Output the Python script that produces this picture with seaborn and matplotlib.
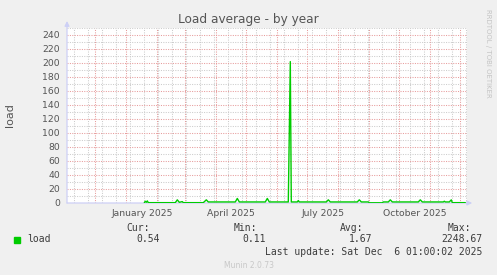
import matplotlib
matplotlib.use("Agg")
import matplotlib.pyplot as plt
import matplotlib.dates as mdates
from matplotlib.ticker import FixedLocator, MultipleLocator, NullFormatter
from matplotlib.patches import Rectangle
import matplotlib.transforms as mtransforms
import seaborn as sns
import pandas as pd

# ---------------- data ----------------
dates = [
    "2025-01-19", "2025-01-20", "2025-01-21", "2025-01-22", "2025-01-23",
    "2025-02-19", "2025-02-21", "2025-02-23", "2025-02-26", "2025-02-27",
    "2025-03-19", "2025-03-22", "2025-03-24",
    "2025-04-20", "2025-04-22", "2025-04-24",
    "2025-05-20", "2025-05-22", "2025-05-24",
    "2025-06-12", "2025-06-14", "2025-06-15",
    "2025-06-21", "2025-06-22", "2025-06-23",
    "2025-07-20", "2025-07-22", "2025-07-24",
    "2025-08-20", "2025-08-22", "2025-08-24",
    "2025-08-31", "2025-09-01", "2025-09-14", "2025-09-15",
    "2025-09-20", "2025-09-22", "2025-09-24",
    "2025-10-20", "2025-10-22", "2025-10-24",
    "2025-11-14", "2025-11-15", "2025-11-16",
    "2025-11-20", "2025-11-22", "2025-11-23", "2025-12-06",
]
load = [
    0.5, 2.5, 1.0, 3.0, 0.5,
    0.5, 4.5, 1.0, 2.0, 0.5,
    0.5, 4.5, 1.5,
    1.5, 6.5, 1.5,
    1.5, 6.5, 1.5,
    1.5, 202.0, 1.5,
    1.5, 3.5, 1.5,
    1.5, 4.5, 1.5,
    1.5, 4.5, 1.5,
    1.5, 0.3, 0.3, 1.5,
    1.5, 4.5, 1.5,
    1.5, 4.5, 1.5,
    1.5, 2.5, 1.5,
    1.5, 4.5, 0.5, 0.5,
]
y_ticks = [0, 20, 40, 60, 80, 100, 120, 140, 160, 180, 200, 220, 240]
x_labels = ["January 2025", "April 2025", "July 2025", "October 2025"]
x_label_dates = ["2025-01-16 12:00", "2025-04-16 00:00", "2025-07-16 12:00", "2025-10-16 12:00"]
legend_name = "load"
stat_headers = ["Cur:", "Min:", "Avg:", "Max:"]
stat_values = ["0.54", "0.11", "1.67", "2248.67"]
title = "Load average - by year"
last_update = "Last update: Sat Dec  6 01:00:02 2025"

# ---------------- figure ----------------
sns.set_theme(style="white")
plt.rcParams["font.family"] = ["DejaVu Sans"]

W, H = 497, 275
fig = plt.figure(figsize=(W / 100, H / 100), dpi=100, facecolor="#F0F0F0")
ax = fig.add_axes([67 / W, 72 / H, 400 / W, 175 / H])
ax.set_facecolor("white")
ax.set_axisbelow(True)

df = pd.DataFrame({"date": pd.to_datetime(dates), "load": load})
sns.lineplot(data=df, x="date", y="load", color="#00CC00", linewidth=1.0,
             ax=ax, zorder=3)

ax.set_xlim(pd.Timestamp("2024-11-02 16:48"), pd.Timestamp("2025-12-07 16:48"))
ax.set_ylim(0, 250)
ax.set_xlabel("")
ax.set_ylabel("")

ax.yaxis.set_major_locator(FixedLocator(y_ticks))
ax.yaxis.set_minor_locator(MultipleLocator(10))
ax.xaxis.set_major_locator(mdates.MonthLocator())
ax.xaxis.set_minor_locator(FixedLocator(
    mdates.date2num(pd.date_range("2024-11-10", "2025-12-07", freq="14D"))))
ax.xaxis.set_major_formatter(NullFormatter())
ax.tick_params(axis="x", which="both", length=0, labelbottom=False)
ax.tick_params(axis="y", which="both", length=0, labelsize=6.7,
               labelcolor="#555555", pad=5)

dots = (0, (1, 1.3))
ax.grid(which="minor", color="#CCCCCC", linestyle=dots, linewidth=0.75)
ax.grid(which="major", color="#E79C9C", linestyle=dots, linewidth=0.75)

for s in ax.spines.values():
    s.set_visible(False)

axis_col = "#CDD0F6"
ax.annotate("", xy=(0, 1.04), xytext=(0, 0), xycoords="axes fraction",
            arrowprops=dict(arrowstyle="-|>", color=axis_col, lw=0.9,
                            mutation_scale=7, shrinkA=0, shrinkB=0),
            annotation_clip=False, zorder=2)
ax.annotate("", xy=(1.013, 0), xytext=(0, 0), xycoords="axes fraction",
            arrowprops=dict(arrowstyle="-|>", color=axis_col, lw=0.9,
                            mutation_scale=7, shrinkA=0, shrinkB=0),
            annotation_clip=False, zorder=2)

trans = mtransforms.blended_transform_factory(ax.transData, ax.transAxes)
for lab, d in zip(x_labels, x_label_dates):
    ax.text(mdates.date2num(pd.Timestamp(d)), -10 / 175, lab, transform=trans,
            ha="center", va="center", fontsize=6.7, color="#555555")


def fx(x):
    return x / W


def fy(y):
    return 1 - y / H


fig.text(fx(248.5), fy(19.5), title, ha="center", va="center",
         fontsize=8.7, color="#555555")
fig.text(fx(9.5), fy(115), "load", rotation=90, ha="center", va="center",
         fontsize=8, color="#555555")
fig.text(fx(488), fy(53), "RRDTOOL / TOBI OETIKER", rotation=270,
         ha="center", va="center", fontsize=5, color="#C4C4C4")

mono = dict(family="DejaVu Sans Mono", fontsize=7, color="#3C3C3C", va="center")
fig.patches.append(Rectangle((fx(14), fy(242.5)), 6 / W, 6 / H,
                             transform=fig.transFigure, color="#00CC00"))
fig.text(fx(27), fy(239), legend_name, ha="left", **mono)
hdr_x = [150, 257, 363, 471]
val_x = [160, 266, 372, 482]
for h, v, hx, vx in zip(stat_headers, stat_values, hdr_x, val_x):
    fig.text(fx(hx), fy(228), h, ha="right", **mono)
    fig.text(fx(vx), fy(239), v, ha="right", **mono)
fig.text(fx(482), fy(252), last_update, ha="right", **mono)
fig.text(fx(248.5), fy(265), "Munin 2.0.73", ha="center", va="center",
         fontsize=5.5, color="#C8C8C8")

fig.savefig("out.png", dpi=100, facecolor=fig.get_facecolor())
